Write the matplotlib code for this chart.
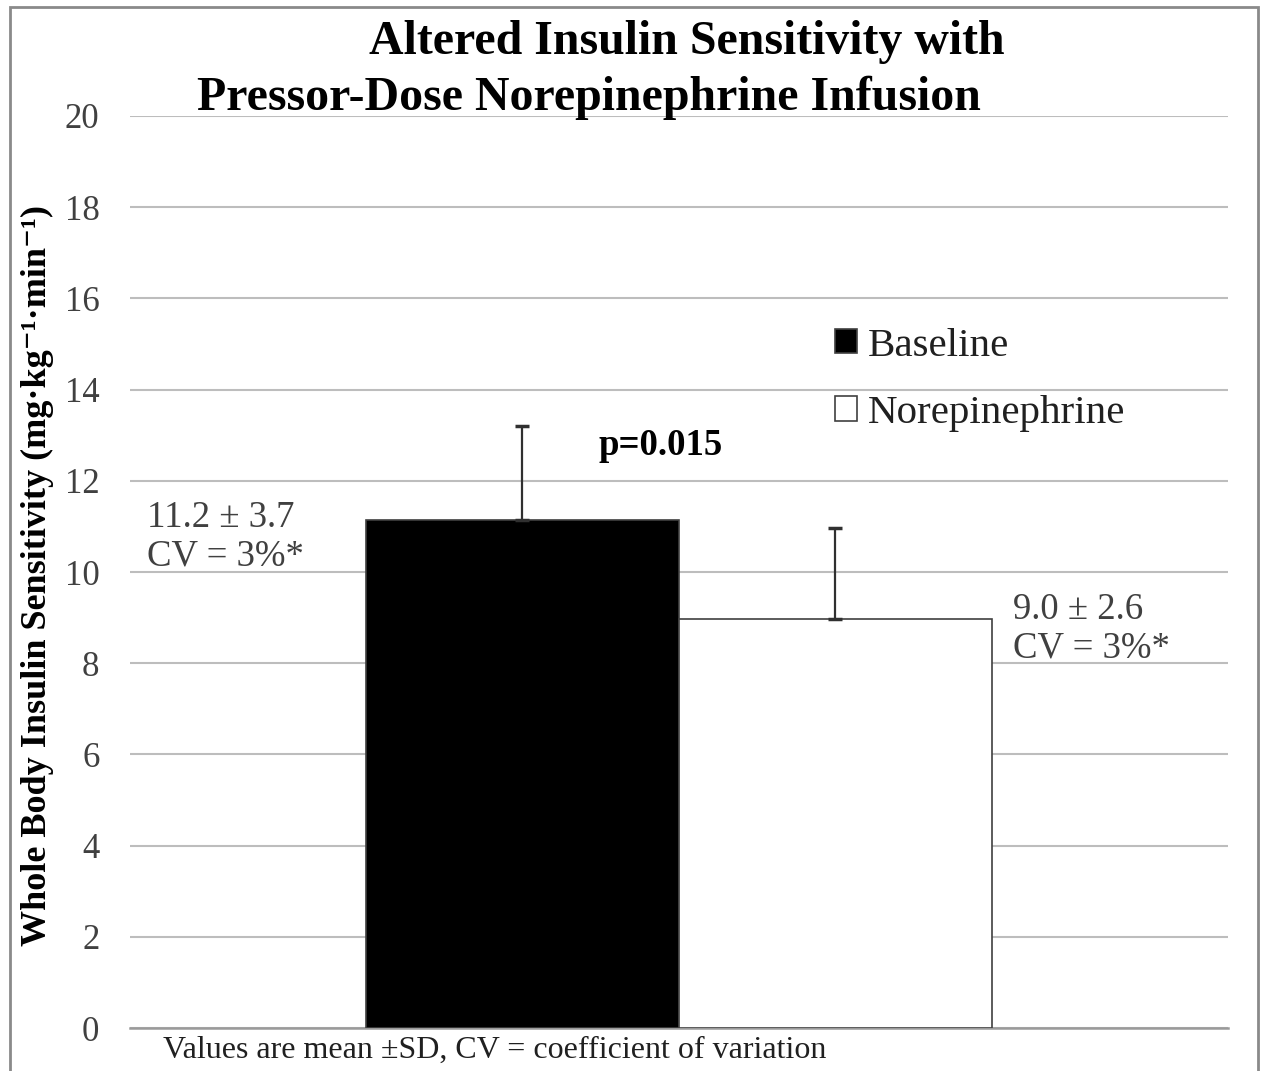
import numpy as np
import matplotlib
matplotlib.use('Agg')
import matplotlib.pyplot as plt
from matplotlib.patches import Rectangle

plt.rcParams['font.family'] = ['Liberation Serif', 'DejaVu Serif']

# data
groups = ['Baseline', 'Norepinephrine']
means = [11.15, 8.97]
err_up = [2.05, 2.0]
colors = ['black', 'white']
yticks = [0, 2, 4, 6, 8, 10, 12, 14, 16, 18, 20]
bar_notes = ['11.2 \u00b1 3.7\nCV = 3%*', '9.0 \u00b1 2.6\nCV = 3%*']

fig = plt.figure(figsize=(12.64, 10.71), dpi=100)
ax = fig.add_axes([0.1028, 0.0401, 0.8687, 0.8516])

width = 0.285
xpos = [-width, 0.0]
for i in range(len(groups)):
    ax.bar(xpos[i], means[i], width=width, align='edge', color=colors[i],
           edgecolor='#404040', linewidth=1.2, label=groups[i], zorder=3)
    ax.errorbar(xpos[i] + width / 2, means[i], yerr=[[0], [err_up[i]]],
                fmt='none', ecolor='#303030', elinewidth=1.6, capsize=5,
                capthick=2.5, zorder=4)

ax.set_xlim(-0.5, 0.5)
ax.set_ylim(0, 20)
ax.set_yticks(yticks)
ax.set_xticks([])
ax.tick_params(axis='y', length=0, pad=22, labelsize=25, labelcolor='#404040')
ax.grid(axis='y', color='#bdbdbd', linewidth=1.5, zorder=0)
for s in ['left', 'right', 'top']:
    ax.spines[s].set_visible(False)
ax.spines['bottom'].set_color('#9a9a9a')
ax.spines['bottom'].set_linewidth(1.8)

# value notes next to the bars
ax.text(-0.4845, 10.76, bar_notes[0], fontsize=26.5, color='#404040',
        va='center', ha='left', linespacing=1.15)
ax.text(0.304, 8.76, bar_notes[1], fontsize=26.5, color='#404040',
        va='center', ha='left', linespacing=1.15)
ax.text(-0.017, 12.78, 'p=0.015', fontsize=26.5, fontweight='bold',
        ha='center', va='center')

leg = ax.legend(loc='upper left', bbox_to_anchor=(0.642, 0.768), frameon=False,
                fontsize=29.5, handlelength=0.55, handleheight=0.55,
                handletextpad=0.25, labelspacing=0.75, borderpad=0,
                borderaxespad=0)
for t in leg.get_texts():
    t.set_color('#202020')

fig.text(0.5435, 0.961, 'Altered Insulin Sensitivity with', fontsize=34.5,
         fontweight='bold', ha='center', va='center')
fig.text(0.156, 0.909, 'Pressor-Dose Norepinephrine Infusion', fontsize=34.5,
         fontweight='bold', ha='left', va='center')
fig.text(0.03, 0.463,
         'Whole Body Insulin Sensitivity (mg\u00b7kg\u207b\u00b9\u00b7min\u207b\u00b9)',
         fontsize=26, fontweight='bold', rotation=90, ha='center', va='center')
fig.text(0.129, 0.0196, 'Values are mean \u00b1SD, CV = coefficient of variation',
         fontsize=23, color='#202020', ha='left', va='center')

# outer frame
fig.patches.append(Rectangle((0.008, -0.01), 0.987, 1.003, transform=fig.transFigure,
                             fill=False, edgecolor='#8a8a8a', linewidth=2))

plt.savefig('out.png', dpi=100)
